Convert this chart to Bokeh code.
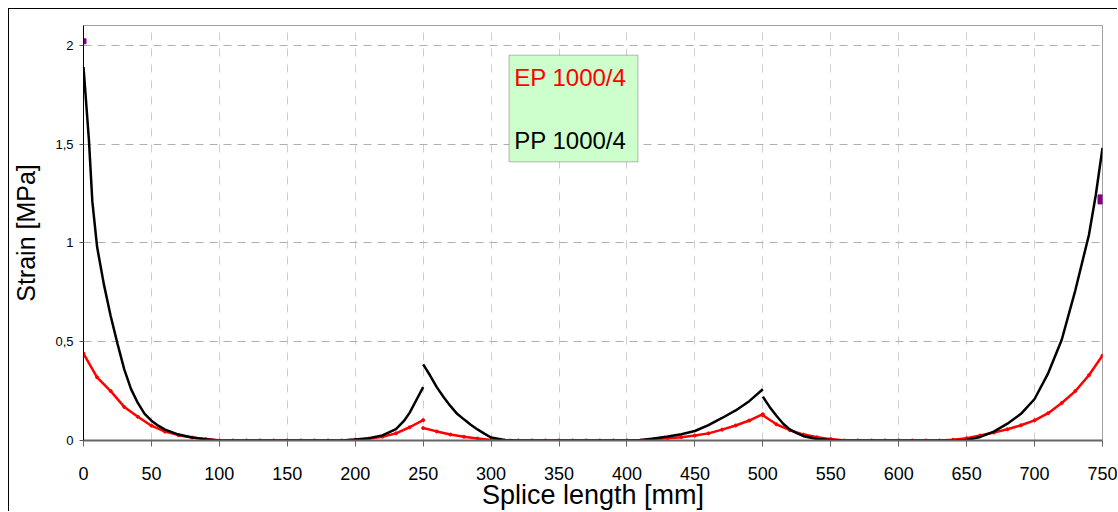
from bokeh.plotting import figure
from bokeh.models import FixedTicker, BoxAnnotation, Label, Range1d
from bokeh.embed import file_html
from bokeh.resources import INLINE

# ---------------- data ----------------
x_ticks = [0, 50, 100, 150, 200, 250, 300, 350, 400, 450, 500, 550, 600, 650, 700, 750]
y_ticks = [0, 0.5, 1, 1.5, 2]
y_tick_labels = {0: "0", 0.5: "0,5", 1: "1", 1.5: "1,5", 2: "2"}

# PP 1000/4 (black), three segments
pp_x1 = [0, 4, 6.5, 10, 15, 20, 25, 30, 35, 40, 45, 50, 55, 60, 70, 80, 90, 100,
         110, 120, 130, 140, 150, 160, 170, 180, 190, 200, 210, 220, 230, 236, 240, 245, 250]
pp_y1 = [1.89, 1.52, 1.21, 0.98, 0.79, 0.63, 0.49, 0.36, 0.26, 0.19, 0.135, 0.10, 0.075, 0.055, 0.03, 0.015, 0.006, 0,
         0, 0, 0, 0, 0, 0, 0, 0, 0, 0.005, 0.012, 0.026, 0.058, 0.10, 0.14, 0.205, 0.27]
pp_x2 = [250, 255, 260, 265, 270, 275, 280, 285, 290, 295, 300, 310, 320, 330, 340, 350, 360, 370, 380, 390, 400,
         410, 420, 430, 440, 450, 460, 470, 480, 490, 500]
pp_y2 = [0.385, 0.33, 0.27, 0.22, 0.175, 0.135, 0.107, 0.08, 0.056, 0.035, 0.015, 0.003, 0, 0, 0, 0, 0, 0, 0, 0, 0,
         0.003, 0.01, 0.02, 0.032, 0.048, 0.078, 0.114, 0.152, 0.199, 0.259]
pp_x3 = [500, 505, 510, 515, 520, 525, 530, 540, 550, 560, 570, 580, 590, 600, 610, 620, 630, 640,
         650, 660, 670, 680, 690, 700, 710, 720, 730, 740, 745, 750]
pp_y3 = [0.222, 0.17, 0.125, 0.085, 0.055, 0.037, 0.022, 0.008, 0.002, 0, 0, 0, 0, 0, 0, 0, 0, 0,
         0.003, 0.018, 0.045, 0.085, 0.135, 0.21, 0.34, 0.51, 0.76, 1.04, 1.24, 1.48]

# EP 1000/4 (red), three segments
ep_x1 = [0, 10, 20, 30, 40, 50, 60, 70, 80, 90, 100, 110, 120, 130, 140, 150, 160, 170, 180, 190,
         200, 210, 220, 230, 240, 250]
ep_y1 = [0.44, 0.32, 0.25, 0.17, 0.12, 0.075, 0.045, 0.027, 0.015, 0.007, 0, 0, 0, 0, 0, 0, 0, 0, 0, 0,
         0.004, 0.009, 0.019, 0.036, 0.067, 0.103]
ep_x2 = [250, 260, 270, 280, 290, 300, 310, 320, 330, 340, 350, 360, 370, 380, 390, 400, 410,
         420, 430, 440, 450, 460, 470, 480, 490, 500]
ep_y2 = [0.063, 0.046, 0.03, 0.019, 0.01, 0.003, 0, 0, 0, 0, 0, 0, 0, 0, 0, 0, 0,
         0.007, 0.012, 0.017, 0.025, 0.036, 0.055, 0.076, 0.101, 0.133]
ep_x3 = [500, 510, 520, 530, 540, 550, 560, 570, 580, 590, 600, 610, 620, 630, 640,
         650, 660, 670, 680, 690, 700, 710, 720, 730, 740, 750]
ep_y3 = [0.128, 0.082, 0.052, 0.03, 0.016, 0.007, 0, 0, 0, 0, 0, 0, 0, 0, 0.004,
         0.012, 0.025, 0.04, 0.057, 0.077, 0.102, 0.138, 0.19, 0.25, 0.33, 0.43]

# third (purple) series, mostly off-scale
pu_x = [0, 750]
pu_y = [2.02, 1.22]
pu_size = [5, 9]

legend_labels = ["EP 1000/4", "PP 1000/4"]

# ---------------- figure ----------------
FONT = "Liberation Sans"

p = figure(width=1109, height=503, output_backend="svg", toolbar_location=None,
           x_range=Range1d(0, 750), y_range=Range1d(0, 2.1),
           min_border_left=73, min_border_top=16, min_border_right=16, min_border_bottom=72,
           background_fill_color="white", border_fill_color="white")
p.styles = {"margin-left": "8px", "margin-top": "8px",
            "border-left": "1px solid black", "border-top": "1px solid black"}

p.outline_line_color = "#a0a0a0"
p.outline_line_width = 1

# grids
p.xgrid.ticker = FixedTicker(ticks=x_ticks)
p.ygrid.ticker = FixedTicker(ticks=y_ticks)
p.xgrid.grid_line_color = "#cfcfcf"
p.xgrid.grid_line_dash = "8 8"
p.xgrid.grid_line_width = 1
p.ygrid.grid_line_color = "#b0b0b0"
p.ygrid.grid_line_dash = "8 6"
p.ygrid.grid_line_width = 1

# x axis
xa = p.xaxis[0]
xa.ticker = FixedTicker(ticks=x_ticks)
xa.axis_line_color = "#666666"
xa.axis_line_width = 2
xa.major_tick_line_color = "#666666"
xa.major_tick_in = 0
xa.major_tick_out = 6
xa.minor_tick_line_color = None
xa.major_label_text_font = FONT
xa.major_label_text_font_size = "18px"
xa.major_label_text_color = "black"
xa.major_label_standoff = 20
xa.axis_label = "Splice length [mm]"
xa.axis_label_text_font = FONT
xa.axis_label_text_font_size = "27px"
xa.axis_label_text_font_style = "normal"
xa.axis_label_text_color = "black"
xa.axis_label_standoff = -3

# y axis
ya = p.yaxis[0]
ya.ticker = FixedTicker(ticks=y_ticks)
ya.major_label_overrides = y_tick_labels
ya.axis_line_color = "black"
ya.axis_line_width = 1
ya.major_tick_line_color = "#555555"
ya.major_tick_in = 0
ya.major_tick_out = 4
ya.minor_tick_line_color = None
ya.major_label_text_font = FONT
ya.major_label_text_font_size = "13px"
ya.major_label_text_color = "black"
ya.major_label_standoff = 6
ya.axis_label = "Strain [MPa]"
ya.axis_label_text_font = FONT
ya.axis_label_text_font_size = "25px"
ya.axis_label_text_font_style = "normal"
ya.axis_label_text_color = "black"
ya.axis_label_standoff = 12

# series
for xs, ys in [(ep_x1, ep_y1), (ep_x2, ep_y2), (ep_x3, ep_y3)]:
    p.line(xs, ys, line_color="#ff0000", line_width=2.5)
    p.scatter(xs, ys, size=3, marker="circle", fill_color="#ff0000", line_color="#ff0000")

for xs, ys in [(pp_x1, pp_y1), (pp_x2, pp_y2), (pp_x3, pp_y3)]:
    p.line(xs, ys, line_color="black", line_width=2.5)

p.scatter(pu_x, pu_y, size=pu_size, marker="square", fill_color="#800080", line_color="#800080")

# legend box
box = BoxAnnotation(left=313.2, right=408.1, bottom=1.41, top=1.95,
                    fill_color="#ccffcc", fill_alpha=1.0,
                    line_color="#222222", line_width=1, level="overlay")
p.add_layout(box)
p.add_layout(Label(x=317, y=1.836, text=legend_labels[0], text_color="#ff0000",
                   text_font=FONT, text_font_size="24px", text_baseline="middle", level="overlay"))
p.add_layout(Label(x=317, y=1.52, text=legend_labels[1], text_color="black",
                   text_font=FONT, text_font_size="24px", text_baseline="middle", level="overlay"))

open("out.html", "w").write(file_html(p, INLINE))
